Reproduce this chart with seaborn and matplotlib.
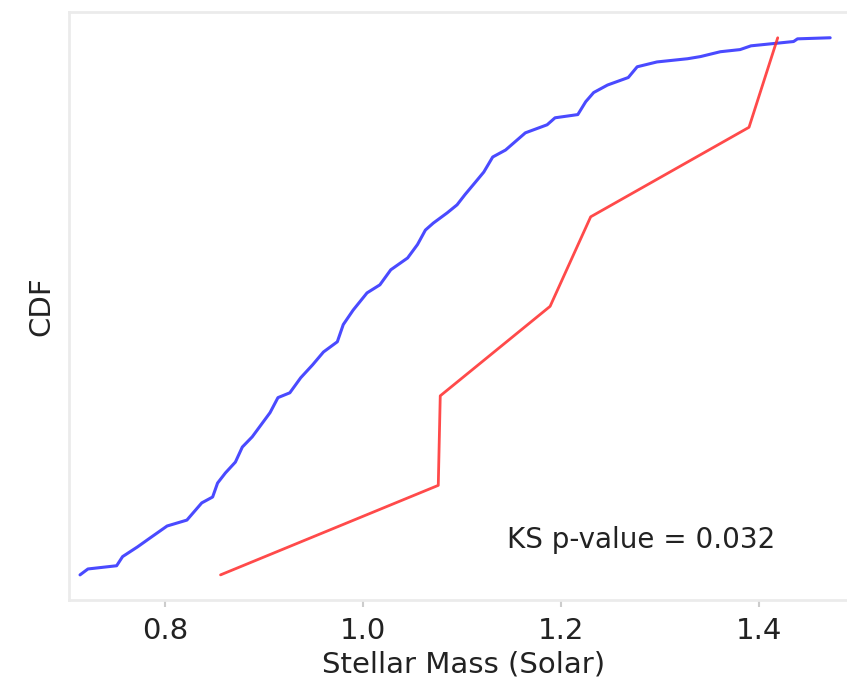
import matplotlib
matplotlib.use("Agg")
import matplotlib.pyplot as plt
import seaborn as sns
import numpy as np

# Blue: full sample empirical CDF (stellar mass, CDF)
blue_mass = [0.714, 0.722, 0.751, 0.757, 0.772, 0.785, 0.802, 0.822, 0.837, 0.848,
             0.853, 0.861, 0.871, 0.878, 0.888, 0.906, 0.914, 0.926, 0.937, 0.949,
             0.960, 0.974, 0.980, 0.990, 1.004, 1.017, 1.028, 1.045, 1.055, 1.063,
             1.071, 1.085, 1.095, 1.103, 1.113, 1.122, 1.131, 1.144, 1.164, 1.186,
             1.194, 1.217, 1.225, 1.233, 1.247, 1.268, 1.277, 1.297, 1.328, 1.341,
             1.361, 1.381, 1.392, 1.435, 1.439, 1.472]
blue_cdf = [0.000, 0.011, 0.017, 0.034, 0.052, 0.069, 0.091, 0.102, 0.134, 0.145,
            0.171, 0.190, 0.210, 0.238, 0.257, 0.302, 0.330, 0.339, 0.367, 0.391,
            0.415, 0.434, 0.466, 0.493, 0.525, 0.540, 0.568, 0.590, 0.615, 0.642,
            0.655, 0.674, 0.689, 0.708, 0.730, 0.750, 0.778, 0.791, 0.823, 0.838,
            0.851, 0.857, 0.881, 0.898, 0.912, 0.926, 0.946, 0.955, 0.961, 0.965,
            0.974, 0.978, 0.985, 0.993, 0.998, 1.000]

# Red: small sample empirical CDF
red_mass = [0.856, 1.076, 1.078, 1.189, 1.230, 1.390, 1.419]
red_cdf = [0.0, 1/6, 2/6, 3/6, 4/6, 5/6, 1.0]

xticks = [0.8, 1.0, 1.2, 1.4]
xtick_labels = ["0.8", "1.0", "1.2", "1.4"]
ks_text = "KS p-value = 0.032"

sns.set_style("white")
plt.rcParams['font.family'] = ['DejaVu Sans']

fig = plt.figure(figsize=(8.47, 6.89), dpi=100)
ax = fig.add_axes([0.0815, 0.129, 0.931, 0.8536])

sns.lineplot(x=blue_mass, y=blue_cdf, ax=ax, color="#2a2aff", alpha=0.85,
             linewidth=2.2, sort=False, estimator=None)
sns.lineplot(x=red_mass, y=red_cdf, ax=ax, color="#ff2a2a", alpha=0.85,
             linewidth=2.0, sort=False, estimator=None)

ax.set_xlim(0.7029, 1.4997)
ax.set_ylim(-0.047, 1.048)
ax.set_xticks(xticks)
ax.set_xticklabels(xtick_labels)
ax.set_yticks([])
ax.tick_params(axis='x', labelsize=21, colors='#cccccc', labelcolor='#222222',
               length=5, width=1.5, direction='out', bottom=True, pad=7)
for s in ax.spines.values():
    s.set_color('#ebebeb')
    s.set_linewidth(2.0)
ax.spines['right'].set_visible(False)

ax.set_xlabel("Stellar Mass (Solar)", fontsize=21, color='#222222', labelpad=4)
ax.set_ylabel("CDF", fontsize=21, color='#222222', labelpad=10)

ax.text(0.726, 0.102, ks_text, transform=ax.transAxes, ha='center', va='center',
        fontsize=20, color='#222222')

fig.savefig("out.png", dpi=100)
